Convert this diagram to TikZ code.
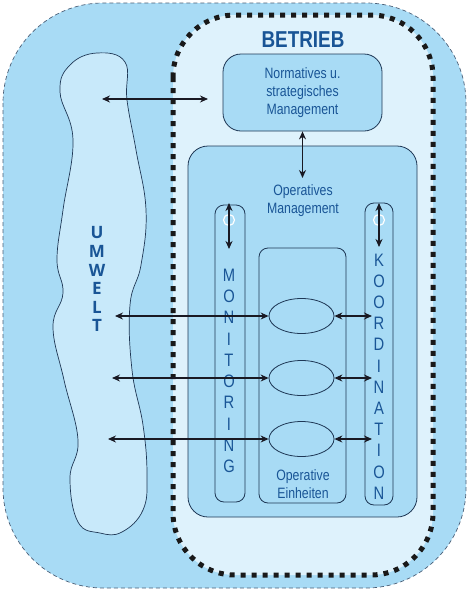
\documentclass[tikz,border=0pt]{standalone}
\usepackage{fontspec}
\setmainfont{Liberation Sans}
\newfontfamily\cnfont[FakeStretch=0.82]{Liberation Sans}
\newfontfamily\umfont{Open Sans}
\usetikzlibrary{arrows.meta, positioning, shapes.geometric}
\definecolor{skyfill}{RGB}{168,219,245}
\definecolor{betrfill}{RGB}{222,242,252}
\definecolor{blobfill}{RGB}{200,233,250}
\definecolor{boxline}{RGB}{30,55,85}
\definecolor{labelblue}{RGB}{25,85,150}
\definecolor{arrowdark}{RGB}{25,25,35}

\begin{document}
\begin{tikzpicture}[x=1pt,y=-1pt,
    box/.style={draw=boxline,fill=skyfill,line width=0.8pt,rounded corners=#1,inner sep=0pt},
    box/.default=16pt,
    unit/.style={ellipse,draw=boxline,fill=skyfill,line width=0.8pt,minimum width=65pt,minimum height=35pt,inner sep=0pt},
    lbl/.style={text=labelblue,font=\cnfont\fontsize{15}{18}\selectfont,align=center},
    letter/.style={text=labelblue,font=\cnfont\fontsize{18}{18}\selectfont,inner sep=0pt},
    dbl/.style={{Stealth[length=8pt,width=7pt]}-{Stealth[length=8pt,width=7pt]},line width=1.1pt,draw=arrowdark}]
    \useasboundingbox (0,0) rectangle (471,592);
    % Umwelt background and Betrieb frame
    \draw[fill=skyfill,draw=boxline!80,line width=0.7pt,dash pattern=on 4pt off 3pt,rounded corners=100pt] (3,3) rectangle (466,588);
    \draw[fill=betrfill,draw=black!90,line width=5pt,dash pattern=on 5pt off 6pt,rounded corners=62pt] (173,15) rectangle (433,575);
    % Umwelt blob
    \draw[fill=blobfill,draw=boxline,line width=0.7pt] plot[smooth cycle,tension=0.7] coordinates {
        (97,53) (125,62) (127,100) (136,150) (146,210) (141,265) (130,305) (132,370) (143,425)
        (147,475) (143,510) (122,532) (100,533) (78,522) (70,478) (78,440) (64,380) (53,327)
        (63,293) (57,260) (63,210) (73,140) (60,92) (70,65)};
    \foreach \ch [count=\i from 0] in {U,M,W,E,L,T}
        \node[text=labelblue,font=\umfont\bfseries\fontsize{17}{17}\selectfont,inner sep=0pt] (umw-\i) at (97,233+18.5*\i) {\ch};
    % Betrieb
    \node[text=labelblue,font=\cnfont\bfseries\fontsize{23}{23}\selectfont] (betrieb) at (303,40) {BETRIEB};
    \node[box=18pt,minimum width=159pt,minimum height=77pt,lbl] (norm) at (302.5,92.5) {Normatives u.\\strategisches\\Management};
    \node[box=20pt,minimum width=229pt,minimum height=371pt] (opm) at (302.5,331.5) {};
    \node[lbl] (opm-label) at (303,201) {Operatives\\Management};
    \node[box=9pt,minimum width=30pt,minimum height=297pt] (mon) at (230,353.5) {};
    \node[box=9pt,minimum width=28pt,minimum height=302pt] (koo) at (379,354) {};
    \node[box=9pt,minimum width=87pt,minimum height=255pt] (einh) at (302.5,375.5) {};
    \node[lbl] (einh-label) at (303,484) {Operative\\Einheiten};
    % Vertical letters
    \foreach \ch [count=\i from 0] in {M,O,N,I,T,O,R,I,N,G}
        \node[letter] (mon-\i) at (229,275+21.3*\i) {\ch};
    \foreach \ch [count=\i from 0] in {K,O,O,R,D,I,N,A,T,I,O,N}
        \node[letter] (koo-\i) at (379,260+21.2*\i) {\ch};
    % Rings
    \node[circle,draw=white,line width=1.2pt,minimum size=11pt,inner sep=0pt] (mon-ring) at (229,220) {};
    \node[circle,draw=white,line width=1.2pt,minimum size=11pt,inner sep=0pt] (koo-ring) at (379,220) {};
    % Arrows
    \coordinate (env-top) at (102,99);
    \coordinate (betr-in) at (208,99);
    \draw[dbl] (env-top) -- (betr-in);
    \coordinate (opm-in) at (302.5,178);
    \draw[dbl] (norm.south) -- (opm-in);
    \coordinate (mon-a) at (229,203);
    \coordinate (mon-b) at (229,249);
    \draw[dbl] (mon-a) -- (mon-b);
    \coordinate (koo-a) at (379,203);
    \coordinate (koo-b) at (379,247);
    \draw[dbl] (koo-a) -- (koo-b);
    \foreach \y/\lx [count=\i] in {316/115,378/112,439/108} {
        \node[unit] (eu-\i) at (301.5,\y) {};
        \coordinate (env-\i) at (\lx,\y);
        \coordinate (koo-in-\i) at (372,\y);
        \draw[dbl] (env-\i) -- (eu-\i.west);
        \draw[dbl] (eu-\i.east) -- (koo-in-\i);
    }
\end{tikzpicture}
\end{document}
